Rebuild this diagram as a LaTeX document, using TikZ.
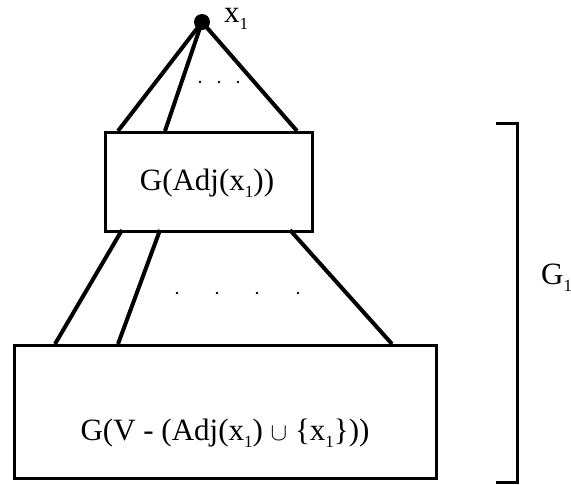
\documentclass[tikz,border=0pt]{standalone}
\usepackage{fontspec}
\setmainfont{Liberation Serif}
\newcommand\lowone[1]{\raisebox{-0.22em}{\fontsize{17}{18}\selectfont #1}}
\begin{document}
\begin{tikzpicture}[x=1pt,y=-1pt,
  edge/.style={line width=4pt},
  boxframe/.style={draw,line width=3pt,inner sep=0pt,anchor=north west},
  lbl/.style={font=\fontsize{31}{36}\selectfont,inner sep=0pt},
  dotmark/.style={circle,fill,inner sep=0pt,minimum size=2.6pt}]
\useasboundingbox (0,0) rectangle (571,485);
% top vertex
\node[circle,fill,inner sep=0pt,minimum size=16pt] (v) at (202,22) {};
\node[lbl,anchor=west] (xl) at (224,19) {x\lowone{1}};
% boxes
\node[boxframe,minimum width=207pt,minimum height=99pt] (b1) at (104,131) {};
\node[lbl] (t1) at (207,183) {G(Adj(x\lowone{1}))};
\node[boxframe,minimum width=422pt,minimum height=133pt] (b2) at (13,344) {};
\node[lbl] (t2) at (225,433) {G(V - (Adj(x\lowone{1}) $\cup$ \{x\lowone{1}\}))};
% attachment points
\coordinate (a1) at (118,131);
\coordinate (a2) at (165,131);
\coordinate (a3) at (297,131);
\coordinate (c1) at (122,230);
\coordinate (c2) at (160,230);
\coordinate (c3) at (290,230);
\coordinate (d1) at (55,344);
\coordinate (d2) at (118,344);
\coordinate (d3) at (392,344);
\draw[edge] (v.center) -- (a1);
\draw[edge] (v.center) -- (a2);
\draw[edge] (v.center) -- (a3);
\draw[edge] (c1) -- (d1);
\draw[edge] (c2) -- (d2);
\draw[edge] (c3) -- (d3);
% ellipsis dots
\foreach \i/\x in {1/200,2/219,3/238}
  \node[dotmark] (p\i) at (\x,82) {};
\foreach \i/\x in {1/177,2/217,3/257,4/298}
  \node[dotmark] (q\i) at (\x,293) {};
% bracket
\coordinate (k1) at (496,123);
\coordinate (k2) at (517,123);
\coordinate (k3) at (517,482);
\coordinate (k4) at (496,482);
\draw[line width=3pt] (k1) -- (k2) -- (k3) -- (k4);
\node[lbl,anchor=west] (g1) at (541,278) {G\lowone{1}};
\end{tikzpicture}
\end{document}
